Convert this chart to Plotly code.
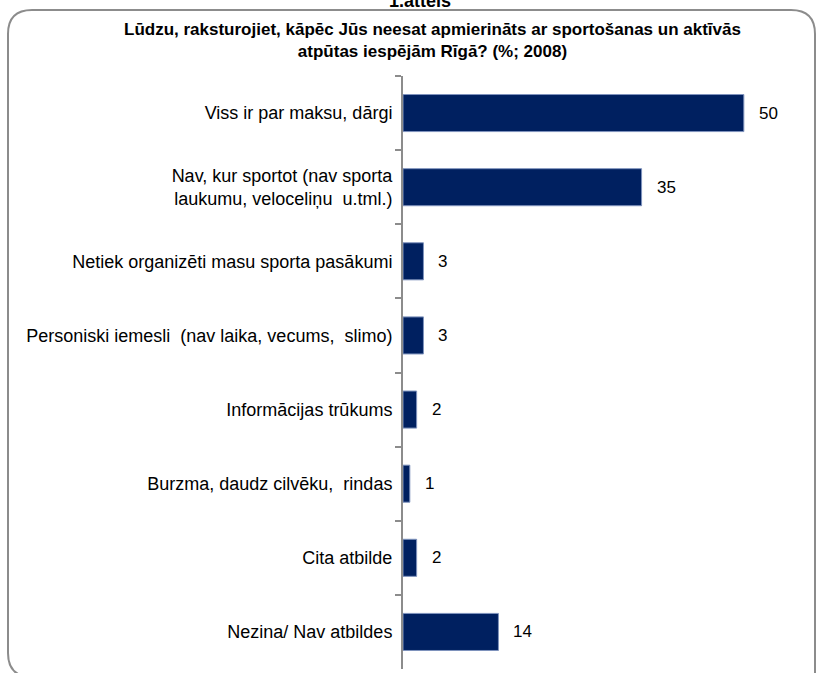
import plotly.graph_objects as go

# Chart data
categories = [
    "Viss ir par maksu, dārgi",
    "Nav, kur sportot (nav sporta<br>laukumu, veloceliņu  u.tml.)",
    "Netiek organizēti masu sporta pasākumi",
    "Personiski iemesli  (nav laika, vecums,  slimo)",
    "Informācijas trūkums",
    "Burzma, daudz cilvēku,  rindas",
    "Cita atbilde",
    "Nezina/ Nav atbildes",
]
values = [50, 35, 3, 3, 2, 1, 2, 14]

title_text = ("<b>Lūdzu, raksturojiet, kāpēc Jūs neesat apmierināts ar sportošanas un aktīvās<br>"
              "atpūtas iespējām Rīgā? (%; 2008)</b>")

FONT = "Liberation Sans Narrow, Arial Narrow, Liberation Sans, Arial, sans-serif"

W, H = 818, 673
L, R, T, B = 403, 6, 76, 4
pw, ph = W - L - R, H - T - B


def px(x):
    return (x - L) / pw


def py(y):
    return (H - B - y) / ph


fig = go.Figure()
fig.add_trace(go.Bar(
    y=categories,
    x=values,
    orientation="h",
    marker=dict(color="#002060", line=dict(color="#7f93bd", width=1)),
    hoverinfo="x+y",
))

# value labels to the right of bars
for c, v in zip(categories, values):
    fig.add_annotation(x=v, y=c, text=str(v), showarrow=False, xanchor="left",
                       xshift=13, font=dict(family=FONT, size=17, color="black"))

# title
fig.add_annotation(x=px(432), y=py(41), xref="paper", yref="paper", text=title_text,
                   showarrow=False, font=dict(family=FONT, size=17, color="black"),
                   align="center", xanchor="center", yanchor="middle")
# caption, cut off by the top edge as in the original
fig.add_annotation(x=px(420), y=py(1), xref="paper", yref="paper", text="<b>1.attēls</b>",
                   showarrow=False, font=dict(family=FONT, size=18, color="black"),
                   xanchor="center", yanchor="middle")

# rounded frame
x0, x1, y0, y1 = px(8), px(815), py(10), py(677)
rx = 24 / pw
ry = 24 / ph
path = (f"M {x0 + rx},{y1} Q {x0},{y1} {x0},{y1 + ry} "
        f"L {x0},{y0 - ry} Q {x0},{y0} {x0 + rx},{y0} "
        f"L {x1 - rx},{y0} Q {x1},{y0} {x1},{y0 - ry} L {x1},{y1}")
fig.add_shape(type="path", path=path, xref="paper", yref="paper",
              line=dict(color="#8c8c8c", width=2), layer="below")

fig.update_layout(
    width=W, height=H,
    margin=dict(l=L, r=R, t=T, b=B),
    paper_bgcolor="white", plot_bgcolor="white",
    bargap=0.5,
    showlegend=False,
    font=dict(family=FONT, size=18, color="black"),
    xaxis=dict(range=[0, 60], visible=False),
    yaxis=dict(autorange="reversed", showline=True, linecolor="#8c8c8c", linewidth=2,
               ticks="outside", tickson="boundaries", ticklen=6, tickcolor="#8c8c8c",
               tickwidth=2, showgrid=False, ticklabelstandoff=5,
               tickfont=dict(family=FONT, size=18, color="black")),
)

# remove the default page margin so the figure fills the window
fig.write_html("out.html", config={"displayModeBar": False},
               post_script="document.body.style.margin='0';")
